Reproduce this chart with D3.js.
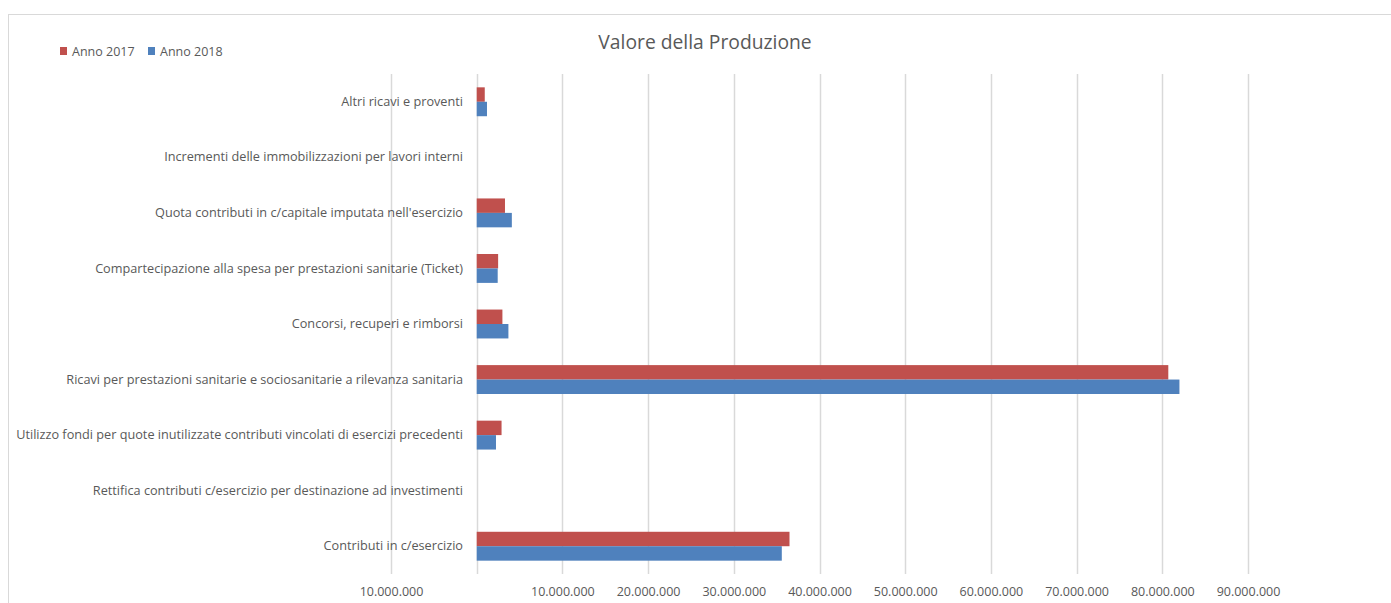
<!DOCTYPE html>
<html>
<head>
<meta charset="utf-8">
<script src="https://cdn.jsdelivr.net/npm/d3@7/dist/d3.min.js"></script>
<style>
  html, body { margin: 0; padding: 0; background: #fff; }
  svg { display: block; font-family: "Open Sans", "Noto Sans", sans-serif; }
</style>
</head>
<body>
<svg id="chart" width="1391" height="603"></svg>
<script>
const categories = [
  "Altri ricavi e proventi",
  "Incrementi delle immobilizzazioni per lavori interni",
  "Quota contributi in c/capitale imputata nell'esercizio",
  "Compartecipazione alla spesa per prestazioni sanitarie (Ticket)",
  "Concorsi, recuperi e rimborsi",
  "Ricavi per prestazioni sanitarie e sociosanitarie a rilevanza sanitaria",
  "Utilizzo fondi per quote inutilizzate contributi vincolati di esercizi precedenti",
  "Rettifica contributi c/esercizio per destinazione ad investimenti",
  "Contributi in c/esercizio"
];
const seriesNames = ["Anno 2017", "Anno 2018"];
const anno2017 = [940000, 0, 3300000, 2500000, 3000000, 80700000, 2900000, 0, 36500000];
const anno2018 = [1200000, 0, 4100000, 2450000, 3700000, 82000000, 2250000, 0, 35600000];
const tickValues = [-10000000, 0, 10000000, 20000000, 30000000, 40000000, 50000000, 60000000, 70000000, 80000000, 90000000];
const colors = ["#c0504d", "#4f81bd"];
const title = "Valore della Produzione";

const svg = d3.select("#chart");

// chart border
svg.append("rect")
  .attr("x", 8.5).attr("y", 14.5)
  .attr("width", 1400).attr("height", 600)
  .attr("fill", "none").attr("stroke", "#d9d9d9").attr("stroke-width", 1);

const plot = { left: 391, right: 1248, top: 74, bottom: 574 };

const x = d3.scaleLinear()
  .domain([-10000000, 90000000])
  .range([plot.left, plot.right]);

const y = d3.scaleBand()
  .domain(categories)
  .range([plot.top, plot.bottom])
  .paddingInner(0.48).paddingOuter(0.24);

const ySub = d3.scaleBand()
  .domain(seriesNames)
  .range([0, y.bandwidth()]);

// gridlines
svg.append("g")
  .selectAll("line")
  .data(tickValues)
  .join("line")
  .attr("x1", d => Math.round(x(d)) + 0.5)
  .attr("x2", d => Math.round(x(d)) + 0.5)
  .attr("y1", plot.top)
  .attr("y2", plot.bottom)
  .attr("stroke", "#d9d9d9")
  .attr("stroke-width", 1.5);

// axis tick labels
const fmt = d => d === 0 ? "" : d3.format(",")(Math.abs(d)).replace(/,/g, ".");
const xAxis = d3.axisBottom(x)
  .tickValues(tickValues)
  .tickFormat(fmt)
  .tickSize(0)
  .tickPadding(0);
const gx = svg.append("g")
  .attr("transform", `translate(0, ${plot.bottom + 13})`)
  .call(xAxis);
gx.select(".domain").remove();
gx.selectAll("text")
  .attr("fill", "#595959")
  .attr("font-size", "12.5px")
  .attr("font-family", "'Open Sans', 'Noto Sans', sans-serif");

// category labels
const yAxis = d3.axisLeft(y).tickSize(0).tickPadding(0);
const gy = svg.append("g")
  .attr("transform", `translate(463, 0)`)
  .call(yAxis);
gy.select(".domain").remove();
gy.selectAll("text")
  .attr("fill", "#595959")
  .attr("font-size", "12.7px")
  .attr("font-family", "'Open Sans', 'Noto Sans', sans-serif");

// bars
const data = categories.map((c, i) => ({ cat: c, values: [anno2017[i], anno2018[i]] }));
const groups = svg.append("g")
  .selectAll("g")
  .data(data)
  .join("g")
  .attr("transform", d => `translate(0, ${y(d.cat)})`);

groups.selectAll("rect")
  .data(d => d.values.map((v, j) => ({ v, s: seriesNames[j], j })))
  .join("rect")
  .attr("x", d => x(Math.min(0, d.v)))
  .attr("y", d => ySub(d.s))
  .attr("width", d => Math.abs(x(d.v) - x(0)))
  .attr("height", ySub.bandwidth())
  .attr("fill", d => colors[d.j]);

// title
svg.append("text")
  .attr("x", 705).attr("y", 49)
  .attr("text-anchor", "middle")
  .attr("font-size", "19.3px")
  .attr("fill", "#595959")
  .text(title);

// legend
const legend = svg.append("g").attr("transform", "translate(60, 47)");
const legendX = [0, 88];
seriesNames.forEach((s, i) => {
  const g = legend.append("g").attr("transform", `translate(${legendX[i]}, 0)`);
  g.append("rect").attr("x", 0).attr("y", 0).attr("width", 7).attr("height", 8).attr("fill", colors[i]);
  g.append("text").attr("x", 12).attr("y", 9)
    .attr("font-size", "12.5px").attr("fill", "#595959").text(s);
});
</script>
</body>
</html>
